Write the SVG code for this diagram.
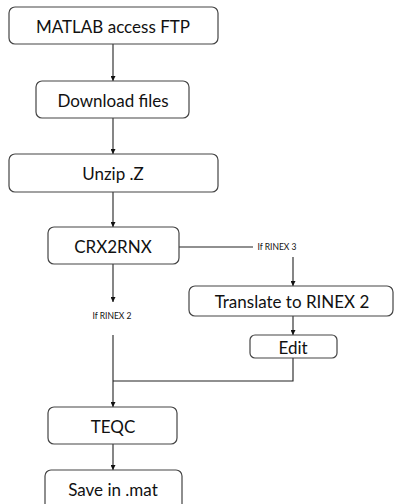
<svg xmlns="http://www.w3.org/2000/svg" width="395" height="504" viewBox="0 0 395 504">
<style>
.box{fill:#fff;stroke:#444;stroke-width:1.2}
.t{font-family:Lato,"Open Sans",sans-serif;font-size:17px;fill:#111;text-anchor:middle;dominant-baseline:central}
.s{font-family:Lato,"Open Sans",sans-serif;font-size:8.5px;fill:#111;text-anchor:middle;dominant-baseline:central}
.c{fill:none;stroke:#222;stroke-width:1.1}
</style>
<defs>
<marker id="ah" viewBox="0 0 8 8" refX="8" refY="4" markerWidth="5" markerHeight="5" orient="auto" markerUnits="userSpaceOnUse">
<path d="M0,0 L8,4 L0,8 z" fill="#111"/>
</marker>
</defs>
<rect width="395" height="504" fill="#fff"/>
<g id="connectors">
<line class="c" x1="113" y1="44" x2="113" y2="81" marker-end="url(#ah)"/>
<line class="c" x1="113" y1="118" x2="113" y2="154" marker-end="url(#ah)"/>
<line class="c" x1="113" y1="192" x2="113" y2="227" marker-end="url(#ah)"/>
<line class="c" x1="179" y1="247" x2="253" y2="247"/>
<line class="c" x1="293" y1="257" x2="293" y2="286" marker-end="url(#ah)"/>
<line class="c" x1="113" y1="264" x2="113" y2="302" marker-end="url(#ah)"/>
<line class="c" x1="293" y1="316" x2="293" y2="335" marker-end="url(#ah)"/>
<polyline class="c" points="293,358 293,381 113,381"/>
<line class="c" x1="113" y1="335" x2="113" y2="407" marker-end="url(#ah)"/>
<line class="c" x1="113" y1="444" x2="113" y2="470" marker-end="url(#ah)"/>
<text class="s" x="277" y="247">If RINEX 3</text>
<text class="s" x="112" y="316">If RINEX 2</text>
</g>
<g id="n1"><rect class="box" x="9" y="7" width="209" height="37" rx="6"/><text class="t" x="113" y="26">MATLAB access FTP</text></g>
<g id="n2"><rect class="box" x="36" y="81" width="153" height="37" rx="6"/><text class="t" x="113" y="100">Download files</text></g>
<g id="n3"><rect class="box" x="9" y="154" width="209" height="38" rx="6"/><text class="t" x="113" y="173">Unzip .Z</text></g>
<g id="n4"><rect class="box" x="48" y="227" width="131" height="37" rx="6"/><text class="t" x="113" y="246">CRX2RNX</text></g>
<g id="n5"><rect class="box" x="189" y="286" width="204" height="30" rx="6"/><text class="t" x="292" y="301">Translate to RINEX 2</text></g>
<g id="n6"><rect class="box" x="250" y="335" width="87" height="23" rx="5"/><text class="t" x="293" y="347">Edit</text></g>
<g id="n7"><rect class="box" x="48" y="407" width="129" height="37" rx="6"/><text class="t" x="113" y="426">TEQC</text></g>
<g id="n8"><rect class="box" x="45" y="470" width="137" height="40" rx="6"/><text class="t" x="113" y="489">Save in .mat</text></g>
</svg>
